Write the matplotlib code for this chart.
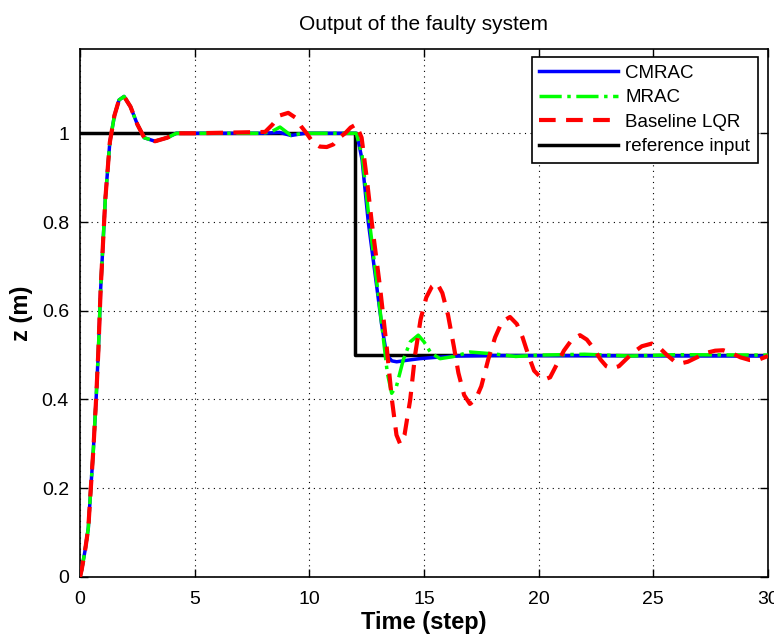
import numpy as np
import matplotlib
matplotlib.use('Agg')
import matplotlib.pyplot as plt

plt.rcParams['font.family'] = ['Liberation Sans', 'DejaVu Sans']

# shared rise from 0 to the first plateau (all three controllers overlap here)
t_rise = [0.0, 0.07, 0.22, 0.36, 0.47, 0.58, 0.70, 0.80, 0.90, 1.10, 1.30, 1.50, 1.70,
          1.92, 2.20, 2.50, 2.80, 3.27, 3.80, 4.20]
z_rise = [0.0, 0.016, 0.06, 0.11, 0.20, 0.286, 0.40, 0.51, 0.65, 0.85, 0.98, 1.04, 1.075,
          1.083, 1.06, 1.02, 0.99, 0.982, 0.99, 1.0]

# CMRAC
t_cmrac = [5.0, 8.0, 8.7, 9.2, 9.8, 11.0, 12.07, 12.3, 12.57, 12.94, 13.15, 13.37, 13.6,
           13.81, 14.2, 14.8, 15.5, 16.5, 18.0, 30.0]
z_cmrac = [1.0, 1.0, 1.002, 0.995, 1.0, 1.0, 1.0, 0.94, 0.80, 0.654, 0.57, 0.50, 0.487,
           0.485, 0.488, 0.492, 0.495, 0.498, 0.499, 0.498]

# MRAC
t_mrac = [5.0, 8.0, 8.4, 8.72, 9.2, 9.7, 11.0, 12.05, 12.3, 12.6, 12.95, 13.2, 13.4,
          13.59, 13.8, 14.1, 14.4, 14.75, 15.0, 15.3, 15.7, 16.3, 17.0, 18.0, 19.0,
          20.0, 22.0, 24.0, 26.0, 30.0]
z_mrac = [1.0, 1.0, 1.005, 1.014, 0.995, 1.0, 1.0, 1.0, 0.95, 0.81, 0.66, 0.55, 0.46,
          0.414, 0.43, 0.49, 0.53, 0.545, 0.53, 0.505, 0.492, 0.497, 0.507, 0.503, 0.497,
          0.50, 0.502, 0.498, 0.501, 0.50]

# Baseline LQR
t_lqr = [5.0, 8.07, 8.4, 8.7, 9.08, 9.4, 9.65, 9.88, 10.15, 10.45, 10.76, 11.05, 11.3,
         11.56, 11.8, 12.04, 12.28, 12.5, 12.72, 13.08, 13.37, 13.6, 13.8, 13.96, 14.15,
         14.4, 14.61, 14.85, 15.1, 15.35, 15.56, 15.8, 16.05, 16.3, 16.5, 16.75, 17.0,
         17.25, 17.5, 17.8, 18.1, 18.4, 18.75, 19.05, 19.3, 19.55, 19.8, 20.2, 20.5,
         20.8, 21.1, 21.45, 21.8, 22.1, 22.4, 22.7, 22.95, 23.19, 23.5, 23.8, 24.1,
         24.5, 24.93, 25.3, 25.6, 25.9, 26.17, 26.5, 26.9, 27.3, 27.7, 28.05, 28.4,
         28.8, 29.2, 29.6, 30.0]
z_lqr = [1.0, 1.003, 1.02, 1.04, 1.046, 1.035, 1.015, 1.0, 0.98, 0.97, 0.969, 0.975, 0.99,
         1.0, 1.013, 1.02, 0.99, 0.90, 0.80, 0.654, 0.52, 0.40, 0.32, 0.30, 0.32,
         0.40, 0.50, 0.58, 0.63, 0.655, 0.663, 0.64, 0.59, 0.52, 0.46, 0.41, 0.39,
         0.40, 0.43, 0.49, 0.54, 0.575, 0.586, 0.57, 0.54, 0.50, 0.465, 0.444, 0.45,
         0.48, 0.51, 0.535, 0.545, 0.535, 0.515, 0.49, 0.475, 0.47, 0.475, 0.49, 0.505,
         0.52, 0.526, 0.515, 0.50, 0.487, 0.481, 0.485, 0.495, 0.505, 0.51, 0.511, 0.505,
         0.495, 0.489, 0.49, 0.498]

# reference input (step from 1 to 0.5 at t = 12)
t_ref = [0.0, 12.0, 12.0, 30.0]
z_ref = [1.0, 1.0, 0.5, 0.5]

series_labels = ['CMRAC', 'MRAC', 'Baseline LQR', 'reference input']

fig = plt.figure(figsize=(7.74, 6.36), dpi=100)
ax = fig.add_axes([0.1034, 0.0928, 0.8888, 0.8302])

h_ref, = ax.plot(t_ref, z_ref, color='black', lw=2.5, zorder=2)
h_c, = ax.plot(t_rise + t_cmrac, z_rise + z_cmrac, color='#0000ff', lw=2.5, ls='-', zorder=3)
h_m, = ax.plot(t_rise + t_mrac, z_rise + z_mrac, color='#00ff00', lw=2.5, ls='-.', zorder=4)
h_l, = ax.plot(t_rise + t_lqr, z_rise + z_lqr, color='#ff0000', lw=3, ls=(0, (4, 2.5)), zorder=5)

ax.set_xlim(0, 30)
ax.set_ylim(0, 1.19)
ax.set_xticks(np.arange(0, 31, 5))
ax.set_yticks([0, 0.2, 0.4, 0.6, 0.8, 1.0])
ax.set_yticklabels(['0', '0.2', '0.4', '0.6', '0.8', '1'])
ax.tick_params(direction='in', top=True, right=True, labelsize=14, length=6, width=1)
ax.tick_params(axis='x', pad=10)
ax.tick_params(axis='y', pad=8)
ax.grid(True, color='black', ls=(0, (1, 4)), lw=0.8)
for s in ax.spines.values():
    s.set_linewidth(1.2)

ax.set_title('Output of the faulty system', fontsize=15, pad=14)
ax.set_xlabel('Time (step)', fontsize=17, fontweight='bold', labelpad=2)
ax.set_ylabel('z (m)', fontsize=17, fontweight='bold', labelpad=6)

leg = ax.legend([h_c, h_m, h_l, h_ref], series_labels, loc='upper right',
                bbox_to_anchor=(0.985, 0.985), borderaxespad=0, fontsize=13.5,
                fancybox=False, framealpha=1, edgecolor='black', handlelength=4.2,
                handletextpad=0.4, labelspacing=0.4)
leg.get_frame().set_linewidth(1.2)

fig.savefig('out.png', dpi=100)
